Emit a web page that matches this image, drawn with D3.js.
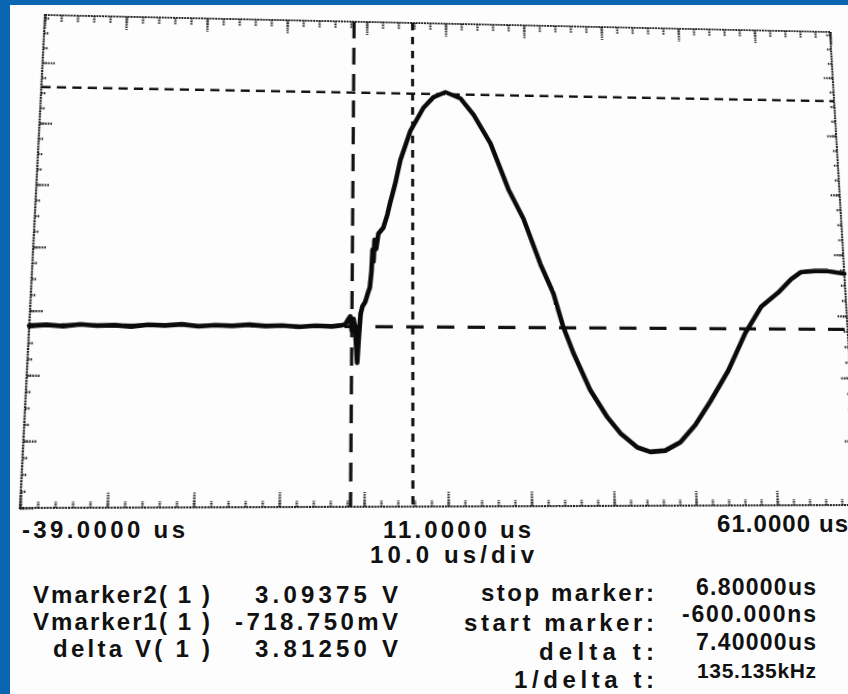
<!DOCTYPE html>
<html>
<head>
<meta charset="utf-8">
<script src="https://cdn.jsdelivr.net/npm/d3@7"></script>
<style>
  html, body { margin: 0; padding: 0; background: #fdfdfd; width: 848px; height: 694px; overflow: hidden; }
  #page { position: relative; width: 848px; height: 694px; overflow: hidden; background: #fdfdfd; }
  #paper { position: absolute; left: 0; top: 0; }
  #scope { position: absolute; left: 0; top: 0; transform-origin: 0 0; overflow: visible; }
  text { font-family: "Liberation Sans", Arial, sans-serif; font-weight: bold; fill: #111; }
</style>
</head>
<body>
<div id="page"></div>
<script>
// ---- acquisition settings ----
const timeRange = [-39, 61];          // us, 10 us/div
const voltRange = [-3.5, 4.3];        // V shown on screen
const timeMajorStep = 10;
const timeMinorStep = 2;
const voltMajorTicks = [-3.5, -2.5, -1.5, -0.5, 0.5, 1.5, 2.5, 3.5];
const voltMinorStep = 0.25;

// ---- captured waveform, channel 1 ----
const traceTime = [
  -39, -37, -35, -33, -31, -29, -27, -25, -23, -21, -19, -17, -15, -13, -11, -9, -7, -5, -3, -1.8,
  -1.4, -1.1, -0.8, -0.6, -0.4, -0.2, 0.07, 0.25, 0.45, 0.67, 1.0, 1.39, 1.55, 1.75, 1.87, 1.99,
  2.11, 2.3, 2.58, 3.19, 3.67, 4.04, 4.28, 4.65, 5.27, 6.52, 8.16, 9.42, 10.94, 12.83, 14.45,
  16.56, 18.75, 20.57, 22.6, 24.14, 25.29, 26.46, 28.45, 30.45, 32.0, 34.03, 35.61, 37.44, 39.34,
  41.27, 43.25, 45.65, 47.99, 50.16, 52.4, 54.14, 55.46, 57.26, 58.93, 61.0
];
const traceVolt = [
  -0.74, -0.72, -0.74, -0.71, -0.73, -0.72, -0.74, -0.71, -0.72, -0.70, -0.73, -0.71, -0.72, -0.70, -0.72, -0.71, -0.73, -0.71, -0.72, -0.70,
  -0.69, -0.62, -0.56, -0.78, -0.60, -0.74, -1.29, -0.90, -0.52, -0.40, -0.33, -0.16, -0.10, 0.16, 0.51, 0.32,
  0.67, 0.52, 0.77, 0.87, 1.08, 1.29, 1.41, 1.60, 1.98, 2.47, 2.86, 3.04, 3.13, 3.03, 2.76,
  2.28, 1.52, 1.04, 0.30, -0.17, -0.71, -1.12, -1.71, -2.13, -2.38, -2.60, -2.67, -2.65, -2.52,
  -2.25, -1.88, -1.39, -0.79, -0.36, -0.13, 0.09, 0.21, 0.23, 0.23, 0.19
];

// ---- cursors ----
const timeMarkers = [
  { name: "start", value: -0.6, dash: "18,10", width: 3.2 },
  { name: "stop",  value: 6.8,  dash: "8,7",   width: 3.0 }
];
const voltMarkers = [
  { name: "Vmarker1", value: -0.71875, dash: "17,13", width: 3.2 },
  { name: "Vmarker2", value: 3.09375,  dash: "9,6",   width: 2.6 }
];

// ---- text readouts ----
const timeLabels = ["-39.0000 us", "11.0000 us", "61.0000 us"];
const scaleLabel = "10.0 us/div";
const voltReadNames = ["Vmarker2( 1 )", "Vmarker1( 1 )", "delta V( 1 )"];
const voltReadValues = ["3.09375 V", "-718.750mV", "3.81250 V"];
const timeReadNames = ["stop marker:", "start marker:", "delta t:", "1/delta t:"];
const timeReadValues = ["6.80000us", "-600.000ns", "7.40000us", "135.135kHz"];

// ---- layout ----
const W = 800, H = 490;                         // graticule box in its own coordinates
const screenCorners = [[45, 15], [830, 32], [858, 505], [20, 508]];  // TL, TR, BR, BL on the page

// projective map of the W x H box onto the four page corners
function quadTransform(w, h, q) {
  const [p0, p1, p2, p3] = q;
  const dx1 = p1[0] - p2[0], dx2 = p3[0] - p2[0], dx3 = p0[0] - p1[0] + p2[0] - p3[0];
  const dy1 = p1[1] - p2[1], dy2 = p3[1] - p2[1], dy3 = p0[1] - p1[1] + p2[1] - p3[1];
  const det = dx1 * dy2 - dx2 * dy1;
  const g = (dx3 * dy2 - dx2 * dy3) / det;
  const k = (dx1 * dy3 - dx3 * dy1) / det;
  const a = p1[0] - p0[0] + g * p1[0], b = p3[0] - p0[0] + k * p3[0], c = p0[0];
  const d = p1[1] - p0[1] + g * p1[1], e = p3[1] - p0[1] + k * p3[1], f = p0[1];
  return `matrix3d(${a / w},${d / w},0,${g / w},${b / h},${e / h},0,${k / h},0,0,1,0,${c},${f},0,1)`;
}

const page = d3.select("#page");

// paper: blue scan border and readout text
const paper = page.append("svg").attr("id", "paper").attr("width", 848).attr("height", 694);
paper.append("rect").attr("x", 0).attr("y", 0).attr("width", 848).attr("height", 694).attr("fill", "#fdfdfd");
paper.append("rect").attr("x", 0).attr("y", 0).attr("width", 10).attr("height", 694).attr("fill", "#0a66b3");
paper.append("rect").attr("x", 0).attr("y", 0).attr("width", 848).attr("height", 5).attr("fill", "#0a66b3");

function label(txt, x, y, len, size) {
  return paper.append("text")
    .attr("x", x).attr("y", y)
    .attr("font-size", size || 24)
    .attr("textLength", len)
    .attr("lengthAdjust", "spacing")
    .text(txt);
}

label(timeLabels[0], 22, 538, 163);
label(timeLabels[1], 383, 538, 148);
label(timeLabels[2], 717, 532, 131);
label(scaleLabel, 370, 563, 164);

const leftRows = [603, 630, 657];
const nameStarts = [33, 33, 53];
voltReadNames.forEach((t, i) => label(t, nameStarts[i], leftRows[i], 210 - nameStarts[i]));
const valStarts = [255, 235, 255];
voltReadValues.forEach((t, i) => label(t, valStarts[i], leftRows[i], 398 - valStarts[i]));

const rightNameRows = [601, 631, 660, 688];
const rightNameStarts = [481, 464, 539, 514];
timeReadNames.forEach((t, i) => label(t, rightNameStarts[i], rightNameRows[i], 654 - rightNameStarts[i]));
const rightValRows = [595, 622, 650, 678];
const rightValStarts = [696, 682, 696, 697];
const rightValSizes = [23, 23, 23, 21];
timeReadValues.forEach((t, i) => label(t, rightValStarts[i], rightValRows[i], 816 - rightValStarts[i], rightValSizes[i]));

// scope screen, drawn flat then mapped onto the page
const scope = page.append("svg").attr("id", "scope")
  .attr("width", W).attr("height", H)
  .style("transform", quadTransform(W, H, screenCorners));

const x = d3.scaleLinear().domain(timeRange).range([0, W]);
const y = d3.scaleLinear().domain(voltRange).range([H, 0]);

// graticule frame
scope.append("rect").attr("x", 0).attr("y", 0).attr("width", W).attr("height", H)
  .attr("fill", "none").attr("stroke", "#222").attr("stroke-width", 2.2)
  .attr("stroke-dasharray", "2,0.8");

const xMinor = d3.range(timeRange[0], timeRange[1] + 0.001, timeMinorStep);
const xMajor = d3.range(timeRange[0], timeRange[1] + 0.001, timeMajorStep);
const yMinor = d3.range(voltRange[0], voltRange[1], voltMinorStep);

function tickGroup(axis, tx, ty) {
  const g = scope.append("g").attr("transform", `translate(${tx},${ty})`).call(axis);
  g.select(".domain").remove();
  g.selectAll("text").remove();
  g.selectAll("line").attr("stroke", "#222").attr("stroke-width", 2.2).attr("stroke-dasharray", "1.6,1");
  return g;
}

tickGroup(d3.axisBottom(x).tickValues(xMinor).tickSize(7).tickFormat(""), 0, 0);
tickGroup(d3.axisBottom(x).tickValues(xMajor).tickSize(14).tickFormat(""), 0, 0);
tickGroup(d3.axisTop(x).tickValues(xMinor).tickSize(6).tickFormat(""), 0, H);
tickGroup(d3.axisTop(x).tickValues(xMajor).tickSize(14).tickFormat(""), 0, H);
tickGroup(d3.axisRight(y).tickValues(yMinor).tickSize(5).tickFormat(""), 0, 0);
tickGroup(d3.axisRight(y).tickValues(voltMajorTicks).tickSize(12).tickFormat(""), 0, 0);
tickGroup(d3.axisLeft(y).tickValues(yMinor).tickSize(5).tickFormat(""), W, 0);
tickGroup(d3.axisLeft(y).tickValues(voltMajorTicks).tickSize(10).tickFormat(""), W, 0);

// cursors
scope.selectAll("line.tmark").data(timeMarkers).join("line")
  .attr("class", "tmark")
  .attr("x1", d => x(d.value)).attr("x2", d => x(d.value))
  .attr("y1", 0).attr("y2", H)
  .attr("stroke", "#111").attr("stroke-width", d => d.width)
  .attr("stroke-dasharray", d => d.dash);

scope.selectAll("line.vmark").data(voltMarkers).join("line")
  .attr("class", "vmark")
  .attr("x1", 0).attr("x2", W)
  .attr("y1", d => y(d.value)).attr("y2", d => y(d.value))
  .attr("stroke", "#111").attr("stroke-width", d => d.width)
  .attr("stroke-dasharray", d => d.dash);

// waveform
const points = traceTime.map((t, i) => [t, traceVolt[i]]);
scope.append("path")
  .datum(points)
  .attr("fill", "none")
  .attr("stroke", "#0b0b0b")
  .attr("stroke-width", 4.6)
  .attr("stroke-linejoin", "round")
  .attr("stroke-linecap", "round")
  .attr("d", d3.line().x(d => x(d[0])).y(d => y(d[1])).curve(d3.curveLinear));
</script>
</body>
</html>
